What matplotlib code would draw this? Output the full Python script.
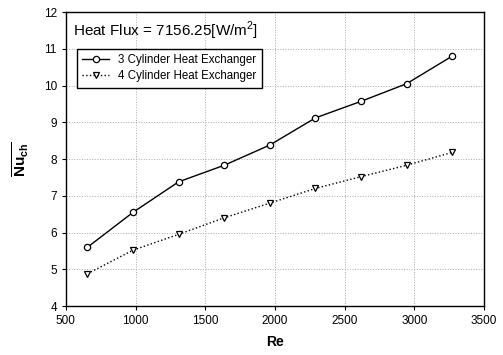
import matplotlib
matplotlib.use("Agg")
import matplotlib.pyplot as plt

plt.rcParams['font.family'] = ['Liberation Sans', 'DejaVu Sans']
plt.rcParams['mathtext.fontset'] = 'custom'
plt.rcParams['mathtext.rm'] = 'Liberation Sans'
plt.rcParams['mathtext.bf'] = 'Liberation Sans:bold'

re_vals = [655, 982, 1309, 1636, 1963, 2291, 2618, 2945, 3272]
nu_3cyl = [5.6, 6.55, 7.38, 7.83, 8.38, 9.12, 9.57, 10.05, 10.8]
nu_4cyl = [4.88, 5.52, 5.95, 6.4, 6.8, 7.2, 7.52, 7.83, 8.18]
labels = ["3 Cylinder Heat Exchanger", "4 Cylinder Heat Exchanger"]

fig = plt.figure(figsize=(5.03, 3.55), dpi=100)
ax = fig.add_axes([0.131, 0.138, 0.831, 0.828])

ax.plot(re_vals, nu_3cyl, '-', color='black', lw=1.0, marker='o', ms=4.5,
        mfc='white', mec='black', mew=0.9, label=labels[0])
ax.plot(re_vals, nu_4cyl, ':', color='black', lw=1.0, marker='v', ms=4.5,
        mfc='white', mec='black', mew=0.9, label=labels[1])

ax.set_xlim(500, 3500)
ax.set_ylim(4, 12)
ax.set_xticks(range(500, 3501, 500))
ax.set_yticks(range(4, 13))
ax.tick_params(labelsize=8.5, direction='out', length=3, width=0.8)
ax.grid(True, linestyle=':', color='#aaaaaa', lw=0.7)
for s in ax.spines.values():
    s.set_linewidth(1.0)

ax.set_xlabel('Re', fontsize=10, fontweight='bold', labelpad=6)
ax.set_ylabel(r'$\overline{\mathbf{Nu}_{\mathbf{ch}}}$', fontsize=11, labelpad=9)

ax.text(0.018, 0.975, r'Heat Flux = 7156.25[W/m$^{2}$]', transform=ax.transAxes,
        fontsize=11, va='top', ha='left')

leg = ax.legend(loc='upper left', bbox_to_anchor=(0.012, 0.895), fontsize=8.3,
                frameon=True, fancybox=False, edgecolor='black', framealpha=1,
                borderpad=0.5, handlelength=2.3, labelspacing=0.3)
leg.get_frame().set_linewidth(1.0)

fig.savefig('out.png', dpi=100)
